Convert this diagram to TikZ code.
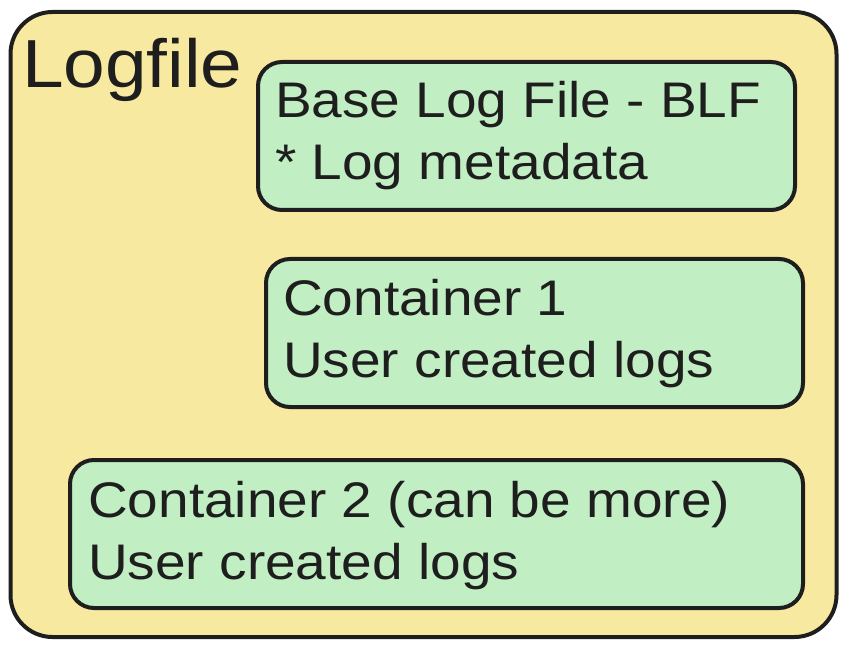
\documentclass[tikz,border=0pt]{standalone}
\usepackage{fontspec}
\setmainfont{Liberation Sans}[FakeStretch=1.1]
\definecolor{yel}{HTML}{F8E9A1}
\definecolor{grn}{HTML}{C1EEC2}
\definecolor{ink}{HTML}{1E1E1E}
\begin{document}
\begin{tikzpicture}[x=1pt,y=-1pt,
  frame/.style={draw=ink, line width=4pt, fill=yel, rounded corners=42pt, inner sep=0pt, outer sep=0pt},
  box/.style={draw=ink, line width=4pt, fill=grn, rounded corners=24pt, inner sep=0pt, outer sep=0pt},
  txt/.style={anchor=base west, inner sep=0pt, text=ink, font=\fontsize{50}{62}\selectfont},
  title/.style={anchor=base west, inner sep=0pt, text=ink, font=\fontsize{68}{80}\selectfont}]
\useasboundingbox (0,0) rectangle (847,650);
\node[frame, minimum width=826pt, minimum height=625pt] (outer) at (423.5,324.5) {};
\node[box, minimum width=537pt, minimum height=148pt] (blf) at (526.5,136) {};
\node[box, minimum width=537pt, minimum height=148pt] (c1) at (534.5,333) {};
\node[box, minimum width=733pt, minimum height=148pt] (c2) at (436.5,534) {};
\node[title] (lt) at (22,88) {Logfile};
\node[txt] (b1) at (275,118) {Base Log File - BLF};
\node[txt] (b2) at (275,180) {* Log metadata};
\node[txt] (c1a) at (283,316) {Container 1};
\node[txt] (c1b) at (283,377) {User created logs};
\node[txt] (c2a) at (88,517) {Container 2 (can be more)};
\node[txt] (c2b) at (88,579) {User created logs};
\end{tikzpicture}
\end{document}
